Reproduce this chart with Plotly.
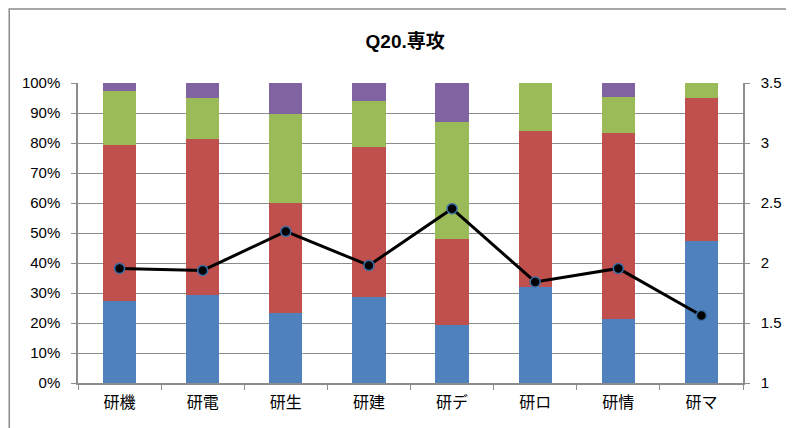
import plotly.graph_objects as go

categories = ["研機", "研電", "研生", "研建", "研デ", "研ロ", "研情", "研マ"]
# cumulative tops (fractions)
blue = [0.275, 0.294, 0.233, 0.287, 0.193, 0.320, 0.213, 0.475]
red_top = [0.793, 0.814, 0.601, 0.787, 0.481, 0.839, 0.832, 0.951]
green_top = [0.973, 0.950, 0.897, 0.941, 0.870, 1.000, 0.952, 1.000]
avg = [1.955, 1.938, 2.263, 1.980, 2.453, 1.842, 1.955, 1.563]

red = [r - b for r, b in zip(red_top, blue)]
green = [g - r for g, r in zip(green_top, red_top)]
purple = [1 - g for g in green_top]

colors = ["#4F81BD", "#C0504D", "#9BBB59", "#8064A2"]
fig = go.Figure()
for vals, c, n in zip([blue, red, green, purple], colors, ["1", "2", "3", "4"]):
    fig.add_trace(go.Bar(x=categories, y=vals, marker=dict(color=c, line=dict(width=0)), name=n))

fig.add_trace(go.Scatter(x=categories, y=avg, yaxis="y2", mode="lines+markers",
                         line=dict(color="black", width=3),
                         marker=dict(color="black", size=10, line=dict(color="#3A6EA5", width=1.5)),
                         name="avg"))

grid = "#8C8C8C"
fig.update_layout(
    width=786, height=420,
    barmode="stack", bargap=0.6,
    showlegend=False,
    plot_bgcolor="white", paper_bgcolor="white",
    margin=dict(l=70, r=47, t=75, b=45),
    font=dict(family="Liberation Sans, Noto Sans CJK JP", size=15, color="black"),
    title=dict(text="<b>Q20.専攻</b>", xref="paper", x=0.492, xanchor="center",
               y=0.92, yanchor="middle",
               font=dict(size=19, family="Liberation Sans, Noto Sans CJK JP")),
    xaxis=dict(type="category", showline=True, linecolor=grid, linewidth=1.5,
               ticks="outside", tickson="boundaries", ticklen=5, tickcolor=grid,
               ticklabelstandoff=4,
               tickfont=dict(size=16, family="Noto Sans CJK JP")),
    yaxis=dict(range=[0, 1], dtick=0.1, tickformat=".0%", showgrid=True, gridcolor=grid,
               gridwidth=1, showline=True, linecolor=grid, linewidth=1.5,
               ticks="outside", ticklen=5, tickcolor=grid, zeroline=False,
               ticklabelstandoff=8),
    yaxis2=dict(range=[1, 3.5], dtick=0.5, overlaying="y", side="right", showgrid=False,
                showline=True, linecolor=grid, linewidth=1.5, ticks="outside", ticklen=5,
                tickcolor=grid, zeroline=False, tickvals=[1, 1.5, 2, 2.5, 3, 3.5],
                ticktext=["1", "1.5", "2", "2.5", "3", "3.5"], ticklabelstandoff=8),
    shapes=[dict(type="rect", xref="paper", yref="paper", x0=-0.1034, x1=1.2, y0=-0.5, y1=1.247,
                 line=dict(color="#8C8C8C", width=1.5), layer="below")],
)

fig.write_html("out.html")
